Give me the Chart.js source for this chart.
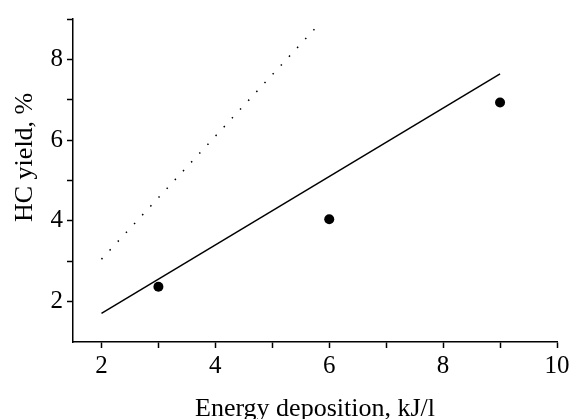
<!DOCTYPE html>
<html>
<head>
<meta charset="utf-8">
<script src="https://cdn.jsdelivr.net/npm/chart.js@4"></script>
<style>
  html, body { margin: 0; padding: 0; background: #fff; }
  #wrap { width: 573px; height: 419px; }
</style>
</head>
<body>
<div id="wrap"><canvas id="chart" width="573" height="419"></canvas></div>
<script>
// measured points
const energy = [3, 6, 9];
const hcYield = [2.37, 4.04, 6.93];

// fitted line (solid) and the dotted reference line
const fitX = [2, 9];
const fitY = [1.71, 7.64];
const dotX = [2, 5.84];
const dotY = [3.05, 8.9];

// ticks: every integer gets a mark, only even ones get a label
const xTicks = [2, 3, 4, 5, 6, 7, 8, 9, 10];
const yTicks = [2, 3, 4, 5, 6, 7, 8, 9];
const xLabels = [2, 4, 6, 8, 10];
const yLabels = [2, 4, 6, 8];

const xTitle = 'Energy deposition, kJ/l';
const yTitle = 'HC yield, %';

const toXY = (xs, ys) => xs.map((x, i) => ({ x: x, y: ys[i] }));

const serif = "'Liberation Serif', 'Times New Roman', serif";

// axis titles drawn by hand so the y title can sit off-centre like the original
const axisTitles = {
    id: 'axisTitles',
    afterDraw(chart) {
        const ctx = chart.ctx;
        const area = chart.chartArea;
        ctx.save();
        ctx.fillStyle = '#000';
        ctx.font = '26px ' + serif;
        ctx.textAlign = 'center';
        ctx.textBaseline = 'alphabetic';
        ctx.fillText(xTitle, (area.left + area.right) / 2, 416);

        ctx.translate(32, 222);
        ctx.rotate(-Math.PI / 2);
        ctx.textAlign = 'left';
        ctx.fillText(yTitle, 0, 0);
        ctx.restore();
    }
};

function axisStyle() {
    return {
        grid: {
            display: true,
            drawOnChartArea: false,
            drawTicks: true,
            tickLength: 6,
            tickColor: '#000',
            tickWidth: 1.5,
            color: '#000'
        },
        border: { display: true, color: '#000', width: 1.5 }
    };
}

const xAxis = Object.assign(axisStyle(), {
    type: 'linear',
    min: 1.5,
    max: 10,
    afterBuildTicks: scale => { scale.ticks = xTicks.map(v => ({ value: v })); },
    afterFit: scale => { scale.height = 77; },
    ticks: {
        color: '#000',
        padding: 3,
        maxRotation: 0,
        autoSkip: false,
        font: { family: serif, size: 25 },
        callback: v => xLabels.includes(v) ? String(v) : ''
    }
});

const yAxis = Object.assign(axisStyle(), {
    type: 'linear',
    min: 1,
    max: 9,
    afterBuildTicks: scale => { scale.ticks = yTicks.map(v => ({ value: v })); },
    afterFit: scale => { scale.width = 73; },
    ticks: {
        color: '#000',
        padding: 4,
        autoSkip: false,
        font: { family: serif, size: 25 },
        callback: v => yLabels.includes(v) ? String(v) : ''
    }
});

new Chart(document.getElementById('chart'), {
    type: 'scatter',
    data: {
        datasets: [
            {
                label: 'dotted',
                data: toXY(dotX, dotY),
                showLine: true,
                borderColor: '#000',
                borderWidth: 1.5,
                borderDash: [1.5, 10.5],
                borderCapStyle: 'butt',
                pointRadius: 0,
                fill: false
            },
            {
                label: 'fit',
                data: toXY(fitX, fitY),
                showLine: true,
                borderColor: '#000',
                borderWidth: 1.5,
                pointRadius: 0,
                fill: false
            },
            {
                label: 'data',
                data: toXY(energy, hcYield),
                showLine: false,
                backgroundColor: '#000',
                borderColor: '#000',
                pointRadius: 5,
                pointBorderWidth: 0
            }
        ]
    },
    options: {
        responsive: false,
        animation: false,
        layout: { padding: { top: 16, right: 16, left: 0, bottom: 0 } },
        plugins: {
            legend: { display: false },
            tooltip: { enabled: false }
        },
        scales: { x: xAxis, y: yAxis }
    },
    plugins: [axisTitles]
});
</script>
</body>
</html>
